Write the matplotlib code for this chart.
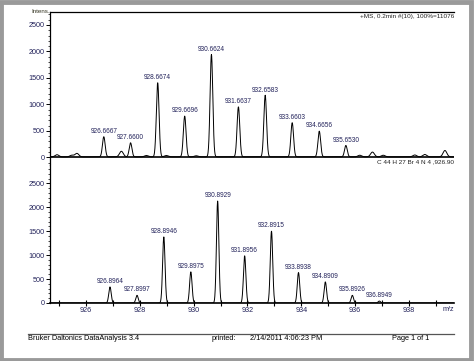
import numpy as np
import matplotlib
matplotlib.use("Agg")
import matplotlib.pyplot as plt
from matplotlib.ticker import MultipleLocator
from matplotlib.patches import Rectangle

plt.rcParams['font.family'] = ['Liberation Sans', 'DejaVu Sans']

# measured spectrum (top)
exp_mz = [926.6667, 927.6600, 928.6674, 929.6696, 930.6624,
          931.6637, 932.6583, 933.6603, 934.6656, 935.6530]
exp_int = [380, 265, 1400, 770, 1935, 945, 1165, 645, 485, 215]
# small unlabelled bumps / noise in the measured trace
noise_mz = [924.93, 925.48, 925.67, 927.32, 928.25, 928.99, 930.10,
            936.17, 936.64, 937.04, 938.21, 938.58, 939.33]
noise_int = [40, 30, 65, 105, 25, 25, 20, 30, 90, 30, 35, 45, 120]

# simulated isotope pattern (bottom)
sim_mz = [926.8964, 927.8997, 928.8946, 929.8975, 930.8929, 931.8956,
          932.8915, 933.8938, 934.8909, 935.8926, 936.8949]
sim_int = [335, 160, 1380, 650, 2130, 985, 1500, 635, 440, 160, 40]

navy = '#22225a'
xmin, xmax = 924.67, 939.67
mz = np.linspace(xmin, xmax, 4000)


def profile(centres, heights, sigma):
    y = np.zeros_like(mz)
    for c, h in zip(centres, heights):
        y += h * np.exp(-0.5 * ((mz - c) / sigma) ** 2)
    return y


fig = plt.figure(figsize=(4.74, 3.61), dpi=100)
ax1 = fig.add_axes([0.1055, 0.543, 0.8525, 0.4238])
ax2 = fig.add_axes([0.1055, 0.1607, 0.8525, 0.3823])

# top panel
y_exp = profile(exp_mz, exp_int, 0.05) + profile(noise_mz, noise_int, 0.07) + 8
ax1.plot(mz, y_exp, color='black', lw=0.7)
ax1.axhline(0, color='black', lw=1.2)
for m, h in zip(exp_mz, exp_int):
    ax1.text(m, h + 40, "%.4f" % m, ha='center', va='bottom', fontsize=4.7, color=navy)
ax1.set_xlim(xmin, xmax)
ax1.set_ylim(-146, 2746)
ax1.spines['right'].set_visible(False)
ax1.spines['bottom'].set_visible(False)
ax1.spines['top'].set_linewidth(0.9)
ax1.set_xticks([])
ax1.text(0.0, 1.0, "Intens.", transform=ax1.transAxes, ha='right', va='center',
         fontsize=4.5, color='#333320')
ax1.text(1.0, 0.985, "+MS, 0.2min #(10), 100%=11076", transform=ax1.transAxes,
         ha='right', va='top', fontsize=4.6, color='#222')
ax1.text(1.0, 0.035, "C 44 H 27 Br 4 N 4 ,926.90", transform=ax1.transAxes,
         ha='right', va='top', fontsize=4.6, color='#222')

# bottom panel
y_sim = profile(sim_mz, sim_int, 0.045)
ax2.plot(mz, y_sim, color='black', lw=0.7)
for m, h in zip(sim_mz, sim_int):
    ax2.text(m, h + 40, "%.4f" % m, ha='center', va='bottom', fontsize=4.7, color=navy)
ax2.set_xlim(xmin, xmax)
ax2.set_ylim(0, 2883)
ax2.spines['right'].set_visible(False)
ax2.spines['top'].set_visible(False)
ax2.spines['bottom'].set_linewidth(1.2)
ax2.xaxis.set_major_locator(MultipleLocator(1))
ax2.set_xticklabels([("%d" % t if int(round(t)) % 2 == 0 else "") for t in ax2.get_xticks()])
ax2.set_xlim(xmin, xmax)
ax2.tick_params(axis='x', direction='inout', length=4, width=0.8, pad=1,
                labelsize=5.2, labelcolor=navy)
ax2.text(0.985, -0.02, "m/z", transform=ax2.transAxes, ha='center', va='top',
         fontsize=5.2, color=navy)

for ax in (ax1, ax2):
    ax.spines['left'].set_linewidth(0.9)
    ax.yaxis.set_major_locator(MultipleLocator(500))
    ax.yaxis.set_minor_locator(MultipleLocator(100))
    ax.tick_params(axis='y', which='major', length=3, width=0.7, pad=1,
                   labelsize=5.2, labelcolor=navy)
    ax.tick_params(axis='y', which='minor', length=1.5, width=0.5)
ax1.set_yticks([0, 500, 1000, 1500, 2000, 2500])
ax2.set_yticks([0, 500, 1000, 1500, 2000, 2500])

# footer
fig.add_artist(plt.Line2D([28 / 474, 454 / 474], [1 - 334 / 361] * 2,
                          color='#555555', lw=0.9))
fy = 1 - 339 / 361
fig.text(28 / 474, fy, "Bruker Daltonics DataAnalysis 3.4", fontsize=5.3, va='center')
fig.text(212 / 474, fy, "printed:", fontsize=5.3, va='center')
fig.text(250 / 474, fy, "2/14/2011 4:06:23 PM", fontsize=5.3, va='center')
fig.text(392 / 474, fy, "Page 1 of 1", fontsize=5.3, va='center')

# grey page frame
fig.add_artist(Rectangle((0.003, 0.004), 0.991, 0.99, transform=fig.transFigure,
                         fill=False, edgecolor='#9a9a9a', lw=3.5))

fig.savefig("out.png", dpi=100)
